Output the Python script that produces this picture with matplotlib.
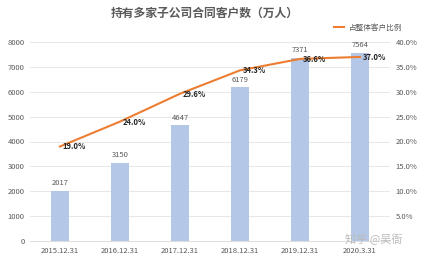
import matplotlib.pyplot as plt
from matplotlib.ticker import FuncFormatter

plt.rcParams['font.family'] = ['Noto Sans CJK SC', 'DejaVu Sans']

dates = ['2015.12.31', '2016.12.31', '2017.12.31', '2018.12.31', '2019.12.31', '2020.3.31']
customers = [2017, 3150, 4647, 6179, 7371, 7564]
share = [19.0, 24.0, 29.6, 34.3, 36.6, 37.0]

bar_color = '#B4C7E7'
line_color = '#ED7D31'
grey = '#595959'

fig = plt.figure(figsize=(4.28, 2.59), dpi=100)
ax = fig.add_axes([30 / 428, 18 / 259, 360 / 428, 199 / 259])
ax2 = ax.twinx()

x = range(len(dates))
ax.bar(x, customers, width=0.3, color=bar_color, zorder=2)
for i, v in enumerate(customers):
    ax.text(i, v + 150, str(v), ha='center', va='bottom', fontsize=5.5, color=grey)

ax.set_ylim(0, 8000)
ax.set_xlim(-0.5, len(dates) - 0.5)
ax.set_yticks(range(0, 8001, 1000))
ax.set_xticks(list(x))
ax.set_xticklabels(dates)
ax.grid(axis='y', color='#E3E3E3', linewidth=0.6, zorder=0)
ax.set_axisbelow(True)

ax2.plot(x, share, color=line_color, linewidth=1.5, label='占整体客户比例', zorder=3)
for i, v in enumerate(share):
    ax2.text(i + 0.04, v - 0.1, f'{v:.1f}%', ha='left', va='center', fontsize=5.5,
             color='#262626', fontweight='bold')
ax2.set_ylim(0, 40)
ax2.set_yticks(range(5, 41, 5))
ax2.yaxis.set_major_formatter(FuncFormatter(lambda v, p: f'{v:.1f}%'))

for a in (ax, ax2):
    for s in a.spines.values():
        s.set_visible(False)
    a.tick_params(length=0, labelsize=5.5, labelcolor=grey, pad=4)
ax.spines['bottom'].set_visible(True)
ax.spines['bottom'].set_color('#D9D9D9')
ax.spines['bottom'].set_linewidth(0.6)

fig.text(205 / 428, 1 - 13 / 259, '持有多家子公司合同客户数（万人）', ha='center', va='center',
         fontsize=8.5, color=grey, fontweight='bold')
fig.legend(handles=ax2.get_lines(), loc='center left', bbox_to_anchor=(334 / 428, 1 - 28 / 259),
           frameon=False, fontsize=5.5, labelcolor=grey, handlelength=1.3,
           handletextpad=0.7, borderpad=0, borderaxespad=0)

fig.text(345 / 428, 1 - 239 / 259, '知乎 @吴衙', fontsize=8, color='#BBBBBB', ha='left', va='center')

fig.savefig('out.png', dpi=100)
